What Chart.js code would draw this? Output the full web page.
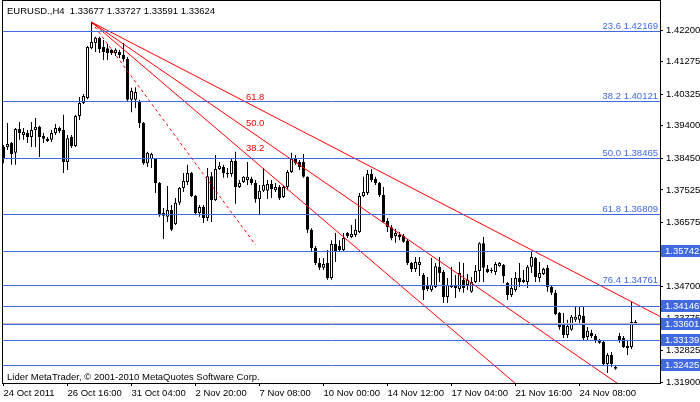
<!doctype html>
<html>
<head>
<title>EURUSD.,H4</title>
<script src="https://cdn.jsdelivr.net/npm/chart.js@4.4.0/dist/chart.umd.min.js"></script>
<style>
    body { margin: 0; background: #fff; }
    canvas { display: block; }
</style>
</head>
<body>
<canvas id="canvas" width="700" height="402"></canvas>
<script>
// time axis, one label every 16 H4 bars
var timeLabels = ['24 Oct 2011', '26 Oct 16:00', '31 Oct 04:00', '2 Nov 20:00', '7 Nov 08:00',
    '10 Nov 00:00', '14 Nov 12:00', '17 Nov 04:00', '21 Nov 16:00', '24 Nov 08:00'];

var opens = [
    1.3878, 1.3878, 1.3890, 1.3861, 1.3931, 1.3913, 1.3919, 1.3907, 1.3928, 1.3937,
    1.3910, 1.3902, 1.3899, 1.3919, 1.3934, 1.3928, 1.3834, 1.3907, 1.3881, 1.3969,
    1.4007, 1.4021, 1.4167, 1.4182, 1.4197, 1.4170, 1.4167, 1.4162, 1.4153, 1.4156,
    1.4147, 1.4135, 1.4016, 1.4016, 1.4010, 1.3948, 1.3831, 1.3843, 1.3843, 1.3773,
    1.3685, 1.3674, 1.3694, 1.3653, 1.3715, 1.3758, 1.3776, 1.3802, 1.3735, 1.3685,
    1.3703, 1.3671, 1.3793, 1.3723, 1.3814, 1.3820, 1.3802, 1.3799, 1.3837, 1.3761,
    1.3776, 1.3782, 1.3785, 1.3773, 1.3726, 1.3750, 1.3750, 1.3770, 1.3752, 1.3761,
    1.3732, 1.3761, 1.3805, 1.3843, 1.3834, 1.3834, 1.3791, 1.3636, 1.3583, 1.3539,
    1.3525, 1.3539, 1.3495, 1.3595, 1.3589, 1.3577, 1.3627, 1.3615, 1.3621, 1.3630,
    1.3735, 1.3744, 1.3799, 1.3785, 1.3773, 1.3738, 1.3662, 1.3644, 1.3618, 1.3615,
    1.3618, 1.3604, 1.3539, 1.3522, 1.3533, 1.3504, 1.3475, 1.3460, 1.3469, 1.3528,
    1.3513, 1.3440, 1.3475, 1.3475, 1.3463, 1.3490, 1.3475, 1.3455, 1.3484, 1.3516,
    1.3597, 1.3522, 1.3519, 1.3513, 1.3530, 1.3533, 1.3481, 1.3446, 1.3460, 1.3495,
    1.3490, 1.3484, 1.3528, 1.3554, 1.3495, 1.3507, 1.3525, 1.3469, 1.3452, 1.3393,
    1.3358, 1.3329, 1.3344, 1.3373, 1.3373, 1.3384, 1.3323, 1.3335, 1.3326, 1.3311,
    1.3308, 1.3244, 1.3270, 1.3230, 1.3326, 1.3320, 1.3291, 1.3294, 1.33677];

var highs = [
    1.3884, 1.3948, 1.3893, 1.3934, 1.3951, 1.3934, 1.3928, 1.3951, 1.3963, 1.3940,
    1.3919, 1.3907, 1.3928, 1.3945, 1.3937, 1.3972, 1.3913, 1.3913, 1.3972, 1.4024,
    1.4033, 1.4173, 1.4243, 1.4200, 1.4200, 1.4191, 1.4179, 1.4164, 1.4167, 1.4162,
    1.4182, 1.4141, 1.4051, 1.4053, 1.4016, 1.3951, 1.3864, 1.3861, 1.3846, 1.3776,
    1.3700, 1.3764, 1.3709, 1.3729, 1.3761, 1.3802, 1.3826, 1.3805, 1.3738, 1.3709,
    1.3709, 1.3817, 1.3805, 1.3855, 1.3834, 1.3826, 1.3817, 1.3846, 1.3864, 1.3782,
    1.3793, 1.3834, 1.3791, 1.3782, 1.3767, 1.3817, 1.3782, 1.3782, 1.3773, 1.3767,
    1.3767, 1.3811, 1.3861, 1.3855, 1.3840, 1.3858, 1.3793, 1.3641, 1.3589, 1.3554,
    1.3554, 1.3577, 1.3606, 1.3627, 1.3606, 1.3627, 1.3630, 1.3650, 1.3668, 1.3744,
    1.3791, 1.3811, 1.3814, 1.3791, 1.3776, 1.3761, 1.3671, 1.3650, 1.3639, 1.3630,
    1.3624, 1.3609, 1.3542, 1.3557, 1.3557, 1.3510, 1.3498, 1.3554, 1.3539, 1.3557,
    1.3519, 1.3495, 1.3528, 1.3504, 1.3542, 1.3539, 1.3507, 1.3498, 1.3533, 1.3600,
    1.3615, 1.3533, 1.3525, 1.3542, 1.3542, 1.3536, 1.3484, 1.3495, 1.3513, 1.3539,
    1.3519, 1.3533, 1.3571, 1.3557, 1.3542, 1.3525, 1.3533, 1.3475, 1.3460, 1.3396,
    1.3393, 1.3373, 1.3387, 1.3411, 1.3411, 1.3411, 1.3352, 1.3344, 1.3332, 1.3317,
    1.3314, 1.3276, 1.3279, 1.3238, 1.3335, 1.3326, 1.3314, 1.3425, 1.33727];

var lows = [
    1.3831, 1.3869, 1.3826, 1.3826, 1.3899, 1.3899, 1.3890, 1.3878, 1.3878, 1.3849,
    1.3890, 1.3893, 1.3893, 1.3913, 1.3919, 1.3802, 1.3811, 1.3875, 1.3878, 1.3957,
    1.4004, 1.4018, 1.4164, 1.4156, 1.4153, 1.4132, 1.4132, 1.4147, 1.4144, 1.4138,
    1.4127, 1.4010, 1.3980, 1.3992, 1.3934, 1.3826, 1.3820, 1.3817, 1.3744, 1.3674,
    1.3609, 1.3659, 1.3633, 1.3650, 1.3709, 1.3747, 1.3767, 1.3732, 1.3679, 1.3674,
    1.3656, 1.3662, 1.3659, 1.3720, 1.3811, 1.3788, 1.3788, 1.3791, 1.3712, 1.3758,
    1.3773, 1.3767, 1.3767, 1.3715, 1.3679, 1.3747, 1.3726, 1.3729, 1.3747, 1.3723,
    1.3729, 1.3752, 1.3802, 1.3826, 1.3811, 1.3788, 1.3627, 1.3571, 1.3533, 1.3519,
    1.3519, 1.3490, 1.3490, 1.3542, 1.3571, 1.3571, 1.3612, 1.3612, 1.3615, 1.3627,
    1.3732, 1.3738, 1.3776, 1.3767, 1.3732, 1.3656, 1.3630, 1.3606, 1.3598, 1.3606,
    1.3598, 1.3533, 1.3513, 1.3513, 1.3501, 1.3431, 1.3457, 1.3455, 1.3466, 1.3484,
    1.3422, 1.3422, 1.3466, 1.3437, 1.3455, 1.3452, 1.3460, 1.3452, 1.3481, 1.3484,
    1.3484, 1.3510, 1.3510, 1.3504, 1.3528, 1.3481, 1.3431, 1.3440, 1.3455, 1.3469,
    1.3481, 1.3466, 1.3510, 1.3484, 1.3484, 1.3504, 1.3455, 1.3446, 1.3387, 1.3344,
    1.3320, 1.3320, 1.3341, 1.3367, 1.3358, 1.3314, 1.3314, 1.3320, 1.3306, 1.3303,
    1.3241, 1.3218, 1.3235, 1.3227, 1.3306, 1.3291, 1.3270, 1.3288, 1.33591];

var closes = [
    1.3846, 1.3887, 1.3858, 1.3931, 1.3919, 1.3922, 1.3907, 1.3928, 1.3937, 1.3907,
    1.3902, 1.3896, 1.3919, 1.3934, 1.3925, 1.3834, 1.3904, 1.3881, 1.3969, 1.4007,
    1.4027, 1.4170, 1.4185, 1.4197, 1.4164, 1.4156, 1.4153, 1.4153, 1.4162, 1.4147,
    1.4135, 1.4016, 1.4042, 1.4039, 1.3948, 1.3831, 1.3861, 1.3858, 1.3773, 1.3679,
    1.3677, 1.3694, 1.3636, 1.3715, 1.3758, 1.3779, 1.3802, 1.3735, 1.3685, 1.3703,
    1.3671, 1.3793, 1.3723, 1.3814, 1.3823, 1.3802, 1.3799, 1.3837, 1.3761, 1.3773,
    1.3791, 1.3791, 1.3773, 1.3726, 1.3750, 1.3767, 1.3770, 1.3755, 1.3761, 1.3729,
    1.3761, 1.3805, 1.3843, 1.3831, 1.3820, 1.3791, 1.3636, 1.3583, 1.3539, 1.3525,
    1.3536, 1.3495, 1.3595, 1.3571, 1.3577, 1.3612, 1.3618, 1.3624, 1.3636, 1.3735,
    1.3747, 1.3799, 1.3782, 1.3773, 1.3738, 1.3659, 1.3644, 1.3612, 1.3627, 1.3621,
    1.3601, 1.3539, 1.3522, 1.3542, 1.3542, 1.3460, 1.3463, 1.3475, 1.3530, 1.3510,
    1.3440, 1.3475, 1.3469, 1.3466, 1.3510, 1.3466, 1.3490, 1.3484, 1.3516, 1.3597,
    1.3525, 1.3513, 1.3516, 1.3536, 1.3539, 1.3501, 1.3446, 1.3466, 1.3495, 1.3484,
    1.3484, 1.3528, 1.3557, 1.3498, 1.3510, 1.3522, 1.3469, 1.3452, 1.3390, 1.3352,
    1.3329, 1.3355, 1.3382, 1.3382, 1.3387, 1.3320, 1.3341, 1.3326, 1.3311, 1.3306,
    1.3244, 1.3270, 1.3244, 1.3235, 1.3314, 1.3294, 1.3297, 1.3367, 1.33624];

var priceTicks = [1.42200, 1.41275, 1.40325, 1.39400, 1.38450, 1.37525, 1.36575,
    1.35650, 1.34700, 1.33775, 1.32825, 1.31900];

// fibonacci retracement levels
var fibNames = ['23.6', '38.2', '50.0', '61.8', '76.4'];
var fibLevels = [1.42169, 1.40121, 1.38465, 1.36809, 1.34761];
// plain horizontal lines with price labels on the axis
var markLevels = [1.35742, 1.34146, 1.33601, 1.33139, 1.32425];
var bidPrice = 1.33624;

// fibonacci fan from the 27 Oct high
var fanNames = ['61.8', '50.0', '38.2'];
var fanStart = [22, 1.4243];
var fanEndBar = 164.125;
var fanEnds = [1.3383, 1.3102, 1.2827];
var dashEnd = [63, 1.3592];

var titleText = 'EURUSD.,H4  1.33677 1.33727 1.33591 1.33624';
var copyText = 'Lider MetaTrader, \u00a9 2001-2010 MetaQuotes Software Corp.';

var FONT = '"Liberation Sans", Arial, sans-serif';
var lineBlue = '#4169E1';

Chart.defaults.font.family = FONT;
Chart.defaults.font.size = 9.5;
Chart.defaults.color = '#000';

var idx = opens.map(function (o, i) { return i; });
var wickData = idx.map(function (i) { return { x: i, y: [lows[i], highs[i]] }; });
var bodyData = idx.map(function (i) { return { x: i, y: [opens[i], closes[i]] }; });
var bodyColors = idx.map(function (i) { return closes[i] >= opens[i] ? '#ffffff' : '#000000'; });

var fanSets = fanEnds.map(function (e) {
    return {
        type: 'line',
        data: [{ x: fanStart[0], y: fanStart[1] }, { x: fanEndBar, y: e }],
        borderColor: '#ff0000', borderWidth: 1, pointRadius: 0, fill: false, order: 1
    };
});
fanSets.push({
    type: 'line',
    data: [{ x: fanStart[0], y: fanStart[1] }, { x: dashEnd[0], y: dashEnd[1] }],
    borderColor: '#ff0000', borderWidth: 1, borderDash: [3, 3], pointRadius: 0, fill: false, order: 1
});

function fanValueAt(k, bar) {
    return fanStart[1] + (fanEnds[k] - fanStart[1]) * (bar - fanStart[0]) / (fanEndBar - fanStart[0]);
}

var mtOverlay = {
    id: 'mtOverlay',
    beforeDraw: function (chart) {
        var ctx = chart.ctx;
        ctx.save();
        ctx.fillStyle = '#fff';
        ctx.fillRect(0, 0, chart.width, chart.height);
        ctx.restore();
    },
    afterDatasetsDraw: function (chart) {
        var ctx = chart.ctx, a = chart.chartArea, xs = chart.scales.x, ys = chart.scales.y;
        function row(v) { return Math.round(ys.getPixelForValue(v)); }
        function hline(v) {
            ctx.beginPath();
            ctx.moveTo(a.left, row(v) + 0.5);
            ctx.lineTo(a.right, row(v) + 0.5);
            ctx.stroke();
        }
        ctx.save();
        ctx.lineWidth = 1;
        ctx.strokeStyle = '#c0c0c0';
        hline(bidPrice);
        ctx.strokeStyle = lineBlue;
        fibLevels.forEach(hline);
        markLevels.forEach(hline);

        ctx.font = '9.5px ' + FONT;
        ctx.fillStyle = lineBlue;
        ctx.textAlign = 'right';
        ctx.textBaseline = 'alphabetic';
        fibLevels.forEach(function (v, k) {
            ctx.fillText(fibNames[k] + ' ' + v.toFixed(5), a.right - 2, row(v) - 2);
        });

        // fan labels sit just above each fan line
        ctx.fillStyle = '#ff0000';
        ctx.textAlign = 'left';
        ctx.textBaseline = 'middle';
        var labBar = 60.6;
        fanNames.forEach(function (n, k) {
            var px = xs.getPixelForValue(labBar);
            var py = ys.getPixelForValue(fanValueAt(k, labBar));
            ctx.fillText(n, px, py - 5);
        });

        ctx.strokeStyle = '#000';
        ctx.strokeRect(a.left - 0.5, a.top - 0.5, a.right - a.left + 1, a.bottom - a.top + 1);
        ctx.restore();
    },
    afterDraw: function (chart) {
        var ctx = chart.ctx, a = chart.chartArea, ys = chart.scales.y;
        ctx.save();
        ctx.font = '9.5px ' + FONT;
        ctx.textBaseline = 'middle';
        ctx.textAlign = 'left';
        markLevels.forEach(function (v) {
            var r = Math.round(ys.getPixelForValue(v));
            ctx.fillStyle = lineBlue;
            ctx.fillRect(a.right + 1, r - 6, chart.width - a.right - 1, 12);
            ctx.fillStyle = '#fff';
            ctx.fillText(v.toFixed(5), a.right + 5, r + 0.5);
        });
        ctx.fillStyle = '#000';
        ctx.fillText(titleText, 7, 11);
        ctx.fillText(copyText, 7, 377);
        ctx.restore();
    }
};

window.onload = function () {
    var ctx = document.getElementById('canvas').getContext('2d');
    window.myChart = new Chart(ctx, {
        type: 'bar',
        data: {
            datasets: fanSets.concat([
                {
                    label: 'body',
                    data: bodyData,
                    backgroundColor: bodyColors,
                    borderColor: '#000',
                    borderWidth: 1,
                    borderSkipped: false,
                    barThickness: 3,
                    minBarLength: 1,
                    inflateAmount: 0,
                    grouped: false,
                    order: 2
                },
                {
                    label: 'wick',
                    data: wickData,
                    backgroundColor: '#000',
                    borderWidth: 0,
                    barThickness: 1,
                    minBarLength: 1,
                    inflateAmount: 0,
                    grouped: false,
                    order: 3
                }
            ])
        },
        options: {
            responsive: false,
            animation: false,
            devicePixelRatio: 1,
            layout: { padding: { left: 3, top: 1, right: 0, bottom: 0 } },
            plugins: {
                legend: { display: false },
                tooltip: { enabled: false },
                title: { display: false }
            },
            scales: {
                x: {
                    type: 'linear',
                    min: -0.125,
                    max: fanEndBar,
                    offset: false,
                    afterBuildTicks: function (s) {
                        s.ticks = timeLabels.map(function (t, k) { return { value: k * 16 }; });
                    },
                    afterFit: function (s) {
                        s.height = 19;
                        s.paddingLeft = 0;
                        s.paddingRight = 0;
                    },
                    grid: { offset: false, drawOnChartArea: false, drawTicks: true, tickLength: 3, color: '#000' },
                    border: { display: false },
                    ticks: {
                        autoSkip: false, maxRotation: 0, minRotation: 0, align: 'start', padding: 2,
                        callback: function (v, k) { return timeLabels[k]; }
                    }
                },
                y: {
                    type: 'linear',
                    position: 'right',
                    min: 1.318854,
                    max: 1.430474,
                    afterBuildTicks: function (s) {
                        s.ticks = priceTicks.map(function (v) { return { value: v }; });
                    },
                    afterFit: function (s) {
                        s.width = 40;
                        s.paddingTop = 0;
                        s.paddingBottom = 0;
                    },
                    grid: { drawOnChartArea: false, drawTicks: true, tickLength: 3, color: '#000' },
                    border: { display: false },
                    ticks: {
                        padding: 3,
                        callback: function (v) { return Number(v).toFixed(5); }
                    }
                }
            }
        },
        plugins: [mtOverlay]
    });
};
</script>
</body>
</html>
